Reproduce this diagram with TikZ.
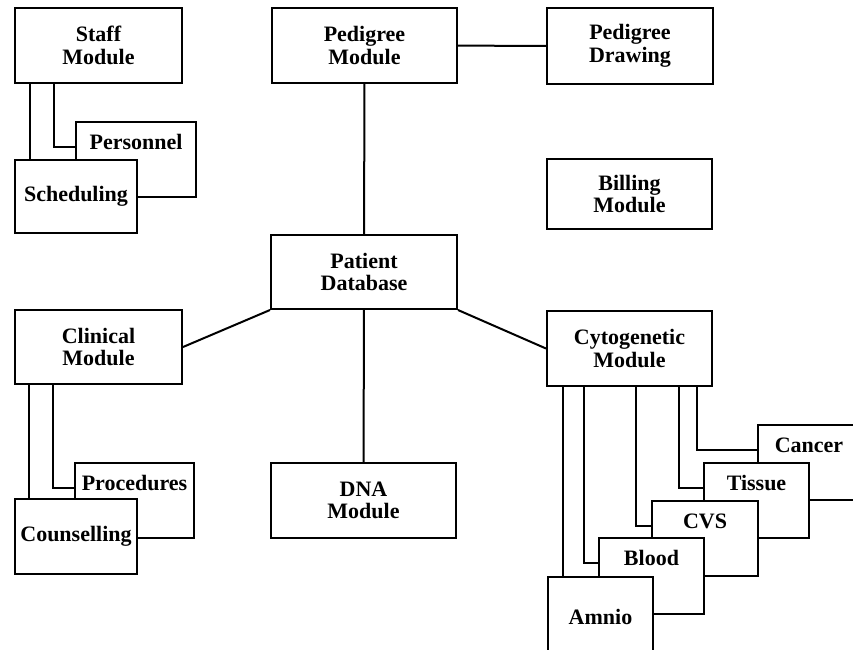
\documentclass[tikz,border=0pt]{standalone}
\usepackage{fontspec}
\setmainfont{Liberation Serif}

\begin{document}
\begin{tikzpicture}[x=1pt,y=-1pt,
    box/.style={draw, fill=white, line width=2pt, inner sep=0pt,
      anchor=north west, align=center,
      font=\fontsize{22}{22.5}\selectfont\bfseries},
    subbox/.style={box, text height=27pt, text depth=48pt},
    link/.style={line width=2pt}]
      \useasboundingbox (0,0) rectangle (853,649);
      \clip (0,0) rectangle (853,649);

      % main modules
      \node[box, minimum width=167, minimum height=75] (staff) at (14,7) {Staff\\Module};
      \node[box, minimum width=185, minimum height=75] (pedmod) at (271,7) {Pedigree\\Module};
      \node[box, minimum width=166, minimum height=76] (peddraw) at (546,7) {Pedigree\\Drawing};
      \node[box, minimum width=165, minimum height=70] (billing) at (546,158) {Billing\\Module};
      \node[box, minimum width=186, minimum height=74] (patient) at (270,234) {Patient\\Database};
      \node[box, minimum width=167, minimum height=74] (clinical) at (14,309) {Clinical\\Module};
      \node[box, minimum width=165, minimum height=75] (cyto) at (546,310) {Cytogenetic\\Module};
      \node[box, minimum width=185, minimum height=75] (dna) at (270,462) {DNA\\Module};

      % staff sub-modules
      \node[subbox, minimum width=120] (pers) at (75,121) {Personnel};
      \node[box, minimum width=122, minimum height=73] (sched) at (14,159) {Scheduling};

      % clinical sub-modules
      \node[subbox, minimum width=119] (proc) at (74,462) {Procedures};
      \node[box, minimum width=122, minimum height=75] (couns) at (14,498) {Counselling};

      % cytogenetic sub-modules
      \node[subbox, minimum width=102] (cancer) at (757,424) {Cancer};
      \node[subbox, minimum width=105] (tissue) at (703,462) {Tissue};
      \node[subbox, minimum width=106] (cvs) at (651,500) {CVS};
      \node[subbox, minimum width=105, text depth=49pt] (blood) at (598,537) {Blood};
      \node[box, minimum width=105, minimum height=80] (amnio) at (547,576) {Amnio};

      \draw[link] (pedmod) -- (peddraw);
      \draw[link] (pedmod) -- (patient);
      \draw[link] (patient) -- (dna);
      \draw[link] (clinical.east) -- (patient.south west);
      \draw[link] (cyto.west) -- (patient.south east);

      \draw[link] ([xshift=16pt]staff.south west) -- ([xshift=16pt]staff.south west |- sched.north);
      \draw[link] ([xshift=40pt]staff.south west) |- (pers.mid west);

      \draw[link] ([xshift=15pt]clinical.south west) -- ([xshift=15pt]clinical.south west |- couns.north);
      \draw[link] ([xshift=39pt]clinical.south west) |- (proc.mid west);

      \draw[link] ([xshift=17pt]cyto.south west) -- ([xshift=17pt]cyto.south west |- amnio.north);
      \draw[link] ([xshift=38pt]cyto.south west) |- (blood.mid west);
      \draw[link] ([xshift=90pt]cyto.south west) |- (cvs.mid west);
      \draw[link] ([xshift=133pt]cyto.south west) |- (tissue.mid west);
      \draw[link] ([xshift=151pt]cyto.south west) |- (cancer.mid west);
\end{tikzpicture}
\end{document}
